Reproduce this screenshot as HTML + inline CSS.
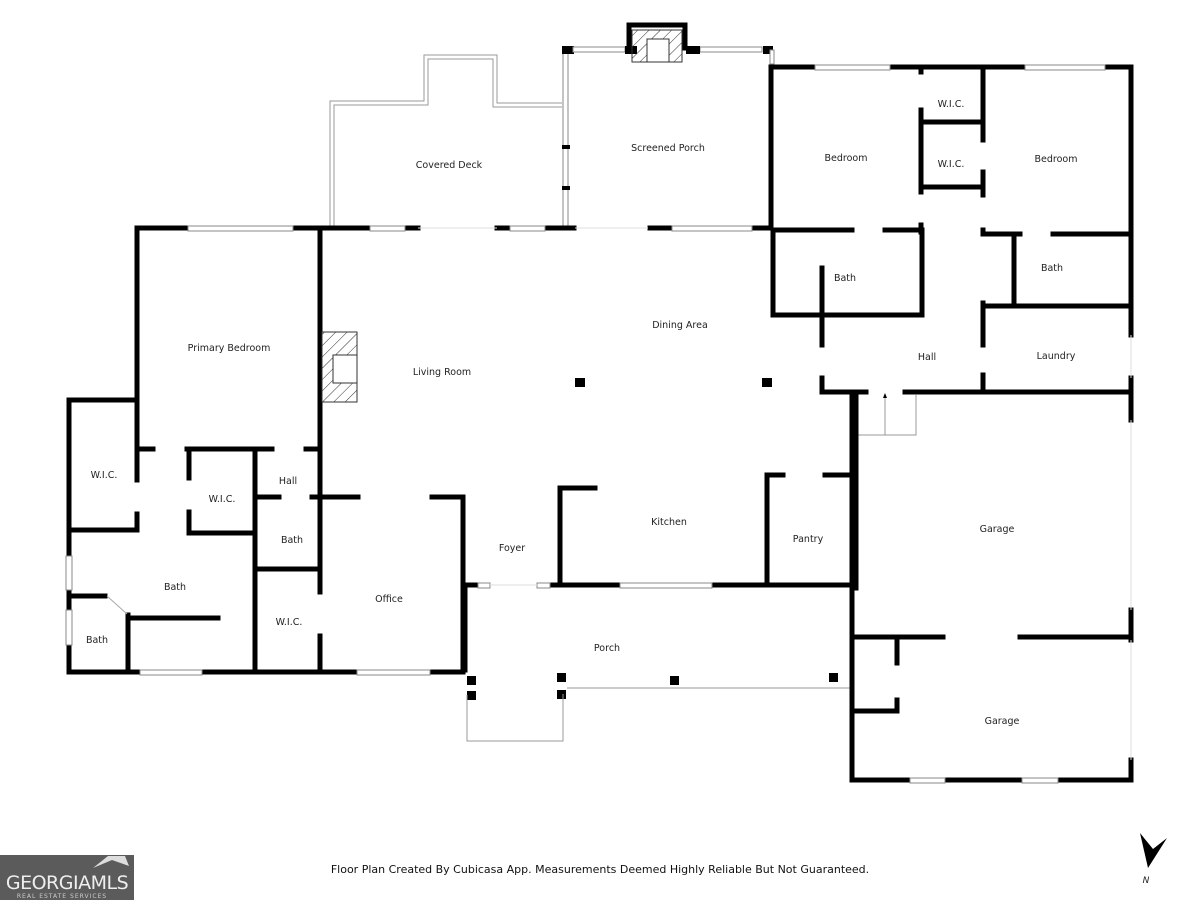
<!DOCTYPE html>
<html><head><meta charset="utf-8"><style>
html,body{margin:0;padding:0;background:#fff;width:1200px;height:900px;overflow:hidden}
svg{display:block}
text{font-family:"DejaVu Sans","Liberation Sans",sans-serif;font-size:9.5px;fill:#222;text-anchor:middle}
.w{stroke:#000;stroke-width:5;fill:none;stroke-linecap:square}
.t{stroke:#999;stroke-width:1;fill:none}
.win{fill:#fff;stroke:#888;stroke-width:1}
</style></head><body>
<svg width="1200" height="900" viewBox="0 0 1200 900">
<defs>
<pattern id="h" width="8" height="8" patternUnits="userSpaceOnUse" patternTransform="rotate(45)"><line x1="0" y1="0" x2="0" y2="8" stroke="#333" stroke-width="1"/></pattern>
</defs>
<!-- covered deck outline (double thin) -->
<path class="t" d="M330 228 V101 H424 V55 H497 V103 H562"/>
<path class="t" d="M334 228 V105 H428 V59 H493 V107 H562"/>
<!-- screened porch -->
<rect x="563" y="50" width="5" height="178" class="win"/>
<rect x="562" y="46" width="12" height="8" fill="#000"/>
<rect x="573" y="47" width="52" height="5" class="win"/>
<rect x="700" y="47" width="62" height="5" class="win"/>
<rect x="625" y="46" width="12" height="8" fill="#000"/>
<rect x="686" y="46" width="14" height="8" fill="#000"/>
<path class="w" d="M629 48 V25 H685 V48"/>
<rect x="632" y="30" width="50" height="32" fill="url(#h)" stroke="#333" stroke-width="1"/>
<rect x="647" y="39" width="22" height="23" fill="#fff" stroke="#333" stroke-width="1"/>
<rect x="763" y="46" width="10" height="8" fill="#000"/>
<rect x="770" y="50" width="4" height="14" class="win"/>
<rect x="562" y="145" width="8" height="4" fill="#000"/>
<rect x="562" y="186" width="8" height="4" fill="#000"/>
<!-- top wall of main -->
<path class="w" d="M137 228 H188 M293 228 H370 M405 228 H418 M497 228 H510 M545 228 H574 M650 228 H672 M752 228 H770"/>
<rect x="188" y="226" width="105" height="5" class="win"/>
<rect x="370" y="226" width="35" height="5" class="win"/>
<rect x="510" y="226" width="35" height="5" class="win"/>
<rect x="672" y="226" width="80" height="5" class="win"/>
<line x1="418" y1="228" x2="497" y2="228" stroke="#ddd"/>
<line x1="575" y1="228" x2="648" y2="228" stroke="#ddd"/>
<!-- primary bedroom -->
<path class="w" d="M137 228 V449 M320 228 V449"/>
<path class="w" d="M69 400 H137 M69 400 V672"/>
<!-- fireplace -->
<rect x="322" y="332" width="35" height="70" fill="url(#h)" stroke="#333" stroke-width="1"/>
<rect x="333" y="355" width="24" height="28" fill="#fff" stroke="#333" stroke-width="1"/>
<!-- left wing interior -->
<path class="w" d="M139 449 H153 M187 449 H272 M306 449 H320"/>
<path class="w" d="M137 449 V480 M137 514 V530 M69 530 H137"/>
<path class="w" d="M189 449 V478 M189 512 V533 H253"/>
<path class="w" d="M255 449 V672"/>
<path class="w" d="M255 497 H279 M312 497 H358 M432 497 H463"/>
<path class="w" d="M320 449 V592 M320 636 V672"/>
<path class="w" d="M255 569 H320"/>
<path class="w" d="M69 596 H105 M128 615 V672 M128 618 H218"/>
<line x1="107" y1="596" x2="127" y2="614" stroke="#aaa" stroke-width="1"/>
<rect x="66" y="556" width="6" height="34" class="win"/>
<rect x="66" y="610" width="6" height="35" class="win"/>
<rect x="66" y="556" width="6" height="34" fill="#fff" stroke="#888"/>
<path class="w" d="M69 672 H140 M202 672 H357 M430 672 H463"/>
<rect x="140" y="670" width="62" height="5" class="win"/>
<rect x="357" y="670" width="73" height="5" class="win"/>
<path class="w" d="M463 497 V672"/>
<!-- foyer/kitchen -->
<path class="w" d="M465 585 H478 M550 585 H620 M712 585 H852"/>
<rect x="478" y="583" width="12" height="5" class="win"/>
<rect x="537" y="583" width="13" height="5" class="win"/>
<rect x="620" y="583" width="92" height="5" class="win"/>
<line x1="490" y1="585" x2="537" y2="585" stroke="#ddd"/>
<path class="w" d="M560 585 V488 H595"/>
<path class="w" d="M767 585 V475 H783 M825 475 H852"/>
<path class="w" d="M465 585 V670"/>
<!-- pillars -->
<rect x="467" y="676" width="9" height="9" fill="#000"/>
<rect x="467" y="691" width="9" height="9" fill="#000"/>
<rect x="557" y="673" width="9" height="9" fill="#000"/>
<rect x="557" y="690" width="9" height="9" fill="#000"/>
<rect x="670" y="676" width="9" height="9" fill="#000"/>
<rect x="829" y="673" width="9" height="9" fill="#000"/>
<rect x="575" y="378" width="10" height="9" fill="#000"/>
<rect x="762" y="378" width="10" height="9" fill="#000"/>
<path class="t" d="M567 688 H852 M563 694 V741 H467 V695"/>
<!-- right block -->
<path class="w" d="M771 67 V228 M771 67 H815 M890 67 H1025 M1105 67 H1131 V335 M1131 378 V420"/>
<rect x="815" y="65" width="75" height="5" class="win"/>
<rect x="1025" y="65" width="80" height="5" class="win"/>
<path class="w" d="M773 230 H852 M885 230 H920 M921 67 V72 M921 110 V192 M921 225 V232"/>
<path class="w" d="M773 230 V315 H922 V230"/>
<path class="w" d="M822 268 V345 M822 378 V392 H866 M905 392 H1131"/>
<path class="w" d="M921 122 H983 M921 187 H983 M983 67 V140 M983 172 V195 M983 230 V233 M983 303 V345 M983 375 V392"/>
<path class="w" d="M983 234 H1020 M1053 234 H1128 M1014 234 V305 M983 306 H1128"/>
<line x1="1131" y1="335" x2="1131" y2="378" stroke="#ddd"/>
<!-- stairs -->
<path class="t" d="M855 395 V435 H916 V395 M885 435 V398"/>
<path d="M885 393 l-2 5 h4z" fill="#000"/>
<!-- garage -->
<path class="w" d="M852 392 V780 H910 M945 780 H1022 M1058 780 H1131 V760"/>
<path class="w" d="M855 392 V585 M856 392 V588"/>
<rect x="910" y="778" width="35" height="5" class="win"/>
<rect x="1022" y="778" width="36" height="5" class="win"/>
<path class="w" d="M852 637 H943 M1020 637 H1131 M1131 610 V640"/>
<path class="w" d="M897 640 V663 M897 700 V711 H852"/>
<line x1="1131" y1="420" x2="1131" y2="610" stroke="#ddd"/>
<line x1="1131" y1="640" x2="1131" y2="760" stroke="#ddd"/>
<!-- labels -->
<text x="449" y="168">Covered Deck</text>
<text x="668" y="151">Screened Porch</text>
<text x="846" y="161">Bedroom</text>
<text x="951" y="107">W.I.C.</text>
<text x="951" y="167">W.I.C.</text>
<text x="1056" y="162">Bedroom</text>
<text x="845" y="281">Bath</text>
<text x="1052" y="271">Bath</text>
<text x="680" y="328">Dining Area</text>
<text x="927" y="360">Hall</text>
<text x="1056" y="359">Laundry</text>
<text x="229" y="351">Primary Bedroom</text>
<text x="442" y="375">Living Room</text>
<text x="104" y="478">W.I.C.</text>
<text x="222" y="502">W.I.C.</text>
<text x="288" y="484">Hall</text>
<text x="292" y="543">Bath</text>
<text x="175" y="590">Bath</text>
<text x="97" y="643">Bath</text>
<text x="289" y="625">W.I.C.</text>
<text x="389" y="602">Office</text>
<text x="512" y="551">Foyer</text>
<text x="669" y="525">Kitchen</text>
<text x="808" y="542">Pantry</text>
<text x="997" y="532">Garage</text>
<text x="607" y="651">Porch</text>
<text x="1002" y="724">Garage</text>
<text x="600" y="873" style="font-size:11px;fill:#111">Floor Plan Created By Cubicasa App. Measurements Deemed Highly Reliable But Not Guaranteed.</text>
<!-- north -->
<polygon points="1140,833 1153,849 1167,838 1148,868" fill="#000"/>
<text x="1146" y="883" style="font-size:9px;font-style:italic">N</text>
<!-- logo -->
<rect x="0" y="855" width="134" height="45" fill="#5b5b5b"/>
<polygon points="93,868 108,856 125,856 129,866 112,860" fill="#ddd"/>
<text x="67" y="889" style="font-size:19px;fill:#eee;letter-spacing:-0.5px">GEORGIAMLS</text>
<text x="62" y="898" style="font-size:6px;fill:#ccc;letter-spacing:1px">REAL ESTATE SERVICES</text>
</svg>
</body></html>
